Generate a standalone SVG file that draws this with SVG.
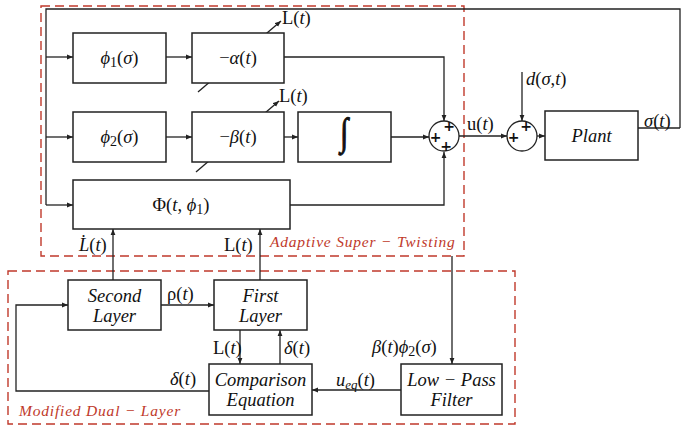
<svg xmlns="http://www.w3.org/2000/svg" width="685" height="429" viewBox="0 0 685 429">
<defs>
<marker id="ah" viewBox="0 0 10 10" refX="10" refY="5" markerWidth="6" markerHeight="6" orient="auto" markerUnits="userSpaceOnUse">
<path d="M0,1 L10,5 L0,9 z" fill="#222"/>
</marker>
</defs>
<style>
.ln{fill:none;stroke:#222;stroke-width:1.3}
.box{fill:#fff;stroke:#222;stroke-width:1.5}
.sum{fill:#fff;stroke:#222;stroke-width:1.3}
.red{fill:none;stroke:#c0392b;stroke-width:1.4;stroke-dasharray:9,5}
text{font-family:"Liberation Serif","DejaVu Serif",serif;fill:#111;font-size:18.5px}
.it{font-style:italic}
.mid{text-anchor:middle}
.rl{fill:#c0392b;font-style:italic;font-size:15.5px;letter-spacing:0.8px}
.pl{font-family:"DejaVu Sans",sans-serif;font-weight:bold;font-size:14px;text-anchor:middle}
</style>
<rect width="685" height="429" fill="#fff"/>

<g id="regions">
<rect class="red" x="41" y="6" width="423" height="250"/>
<rect class="red" x="8" y="271" width="507" height="153"/>
<text class="rl" x="270" y="247">Adaptive Super − Twisting</text>
<text class="rl" x="19" y="416">Modified Dual − Layer</text>
</g>

<g id="connectors">
<path class="ln" d="M680,128 V9 H46 V205"/>
<path class="ln" d="M638,128 H680"/>
<path class="ln" d="M46,57 H73" marker-end="url(#ah)"/>
<path class="ln" d="M46,137 H73" marker-end="url(#ah)"/>
<path class="ln" d="M46,205 H73" marker-end="url(#ah)"/>
<path class="ln" d="M166,57 H192" marker-end="url(#ah)"/>
<path class="ln" d="M166,137 H192" marker-end="url(#ah)"/>
<path class="ln" d="M284,137 H298" marker-end="url(#ah)"/>
<path class="ln" d="M391,137 H429" marker-end="url(#ah)"/>
<path class="ln" d="M284,57 H444 V121" marker-end="url(#ah)"/>
<path class="ln" d="M290,205 H444 V152" marker-end="url(#ah)"/>
<path class="ln" d="M459,136 H507" marker-end="url(#ah)"/>
<path class="ln" d="M522,72 V121" marker-end="url(#ah)"/>
<path class="ln" d="M537,136 H545" marker-end="url(#ah)"/>
<path class="ln" d="M198,92 L281,21" marker-end="url(#ah)"/>
<path class="ln" d="M196,172 L279,101" marker-end="url(#ah)"/>
<path class="ln" d="M113,280 V229" marker-end="url(#ah)"/>
<path class="ln" d="M260,280 V229" marker-end="url(#ah)"/>
<path class="ln" d="M161,305 H214" marker-end="url(#ah)"/>
<path class="ln" d="M240,330 V364" marker-end="url(#ah)"/>
<path class="ln" d="M280,364 V330" marker-end="url(#ah)"/>
<path class="ln" d="M209,391 H16 V305 H68" marker-end="url(#ah)"/>
<path class="ln" d="M401,390 H312" marker-end="url(#ah)"/>
<path class="ln" d="M452,256 V364" marker-end="url(#ah)"/>
</g>

<g id="phi1"><rect class="box" x="73" y="33" width="93" height="50"/>
<text class="mid it" x="119.5" y="64">ϕ<tspan font-style="normal" font-size="14" dy="3">1</tspan><tspan dy="-3" font-style="normal">(</tspan>σ<tspan font-style="normal">)</tspan></text></g>

<g id="alpha"><rect class="box" x="192" y="33" width="92" height="50"/>
<text class="mid" x="238" y="64">−<tspan class="it">α</tspan>(<tspan class="it">t</tspan>)</text></g>
<text x="282" y="24">L(<tspan class="it">t</tspan>)</text>

<g id="phi2"><rect class="box" x="73" y="112" width="93" height="50"/>
<text class="mid it" x="119.5" y="143">ϕ<tspan font-style="normal" font-size="14" dy="3">2</tspan><tspan dy="-3" font-style="normal">(</tspan>σ<tspan font-style="normal">)</tspan></text></g>

<g id="beta"><rect class="box" x="192" y="112" width="92" height="50"/>
<text class="mid" x="238" y="143">−<tspan class="it">β</tspan>(<tspan class="it">t</tspan>)</text></g>
<text x="279" y="102">L(<tspan class="it">t</tspan>)</text>

<g id="integral"><rect class="box" x="298" y="112" width="93" height="50"/>
<text class="mid" transform="translate(344,145) scale(1.6,2.1)" x="0" y="0" font-family="DejaVu Sans" font-size="22" font-weight="bold" stroke="#111" stroke-width="0.5">∫</text></g>

<g id="Phi"><rect class="box" x="73" y="180" width="217" height="49"/>
<text class="mid" x="181" y="211">Φ(<tspan class="it">t</tspan>, <tspan class="it">ϕ</tspan><tspan font-size="14" dy="3">1</tspan><tspan dy="-3">)</tspan></text></g>

<g id="sum1"><circle class="sum" cx="444" cy="136" r="15"/>
<text class="pl" x="449" y="131">+</text>
<text class="pl" x="435.5" y="142">+</text>
<text class="pl" x="446" y="151">+</text></g>
<text x="467" y="130">u(<tspan class="it">t</tspan>)</text>

<g id="sum2"><circle class="sum" cx="522" cy="136" r="15"/>
<text class="pl" x="526" y="131">+</text>
<text class="pl" x="513.5" y="142">+</text></g>
<text class="it" x="526" y="85">d<tspan font-style="normal">(</tspan>σ<tspan font-style="normal">,</tspan>t<tspan font-style="normal">)</tspan></text>

<g id="plant"><rect class="box" x="545" y="111" width="93" height="49"/>
<text class="mid it" x="591.5" y="142">Plant</text></g>
<text x="644" y="127"><tspan class="it">σ</tspan>(<tspan class="it">t</tspan>)</text>

<text class="it" x="79" y="251">L̇<tspan font-style="normal">(</tspan>t<tspan font-style="normal">)</tspan></text>
<text x="224" y="251">L(<tspan class="it">t</tspan>)</text>

<g id="second"><rect class="box" x="68" y="280" width="93" height="50"/>
<text class="mid it" x="114.5" y="302">Second</text>
<text class="mid it" x="114.5" y="322">Layer</text></g>
<text x="167" y="300">ρ(<tspan class="it">t</tspan>)</text>

<g id="first"><rect class="box" x="214" y="280" width="93" height="50"/>
<text class="mid it" x="260.5" y="302">First</text>
<text class="mid it" x="260.5" y="322">Layer</text></g>

<text x="213" y="354">L(<tspan class="it">t</tspan>)</text>
<text x="284" y="354"><tspan class="it">δ</tspan>(<tspan class="it">t</tspan>)</text>
<text x="170" y="385"><tspan class="it">δ</tspan>(<tspan class="it">t</tspan>)</text>

<g id="comparison"><rect class="box" x="209" y="364" width="103" height="51"/>
<text class="mid it" x="260.5" y="386">Comparison</text>
<text class="mid it" x="260.5" y="406">Equation</text></g>

<text class="it" x="336" y="386">u<tspan font-size="13" dy="3">eq</tspan><tspan dy="-3" font-style="normal">(</tspan>t<tspan font-style="normal">)</tspan></text>
<text class="it" x="372" y="353">β<tspan font-style="normal">(</tspan>t<tspan font-style="normal">)</tspan>ϕ<tspan font-style="normal" font-size="14" dy="3">2</tspan><tspan dy="-3" font-style="normal">(</tspan>σ<tspan font-style="normal">)</tspan></text>

<g id="lpf"><rect class="box" x="401" y="364" width="101" height="51"/>
<text class="mid it" x="451.5" y="386">Low − Pass</text>
<text class="mid it" x="451.5" y="406">Filter</text></g>
</svg>
